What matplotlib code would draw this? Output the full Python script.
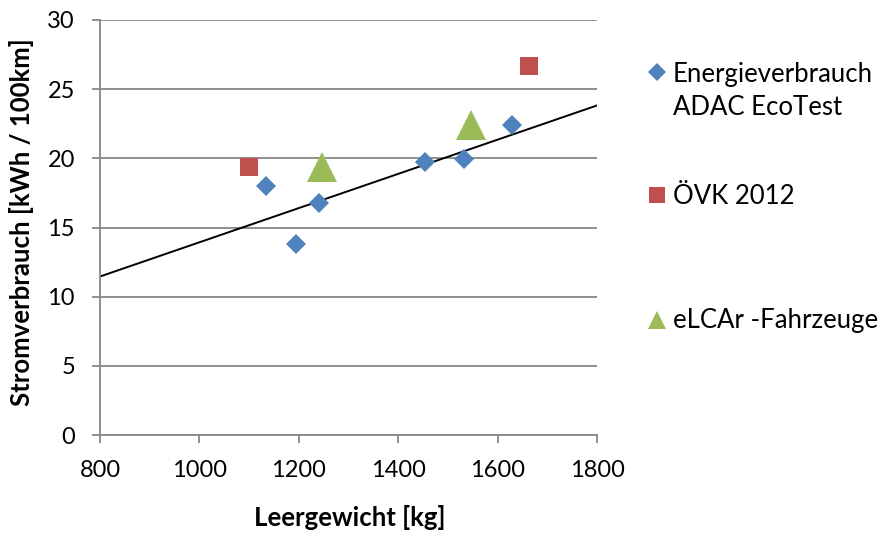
import numpy as np
import matplotlib
matplotlib.use("Agg")
import matplotlib.pyplot as plt
from matplotlib.lines import Line2D

plt.rcParams['font.family'] = ['Lato', 'DejaVu Sans']

# Vehicle data: curb weight [kg] vs. electricity consumption [kWh/100km]
adac_weight = [1135, 1195, 1240, 1453, 1533, 1629]
adac_consumption = [18.0, 13.8, 16.75, 19.7, 19.95, 22.4]

oevk_weight = [1100, 1664]
oevk_consumption = [19.35, 26.7]

elcar_weight = [1246, 1546]
elcar_consumption = [19.4, 22.4]

series_labels = ["Energieverbrauch\nADAC EcoTest", "ÖVK 2012", "eLCAr -Fahrzeuge"]
x_ticks = [800, 1000, 1200, 1400, 1600, 1800]
y_ticks = [0, 5, 10, 15, 20, 25, 30]

BLUE = "#4F81BD"
RED = "#C0504D"
GREEN = "#9BBB59"
GRID = "#878787"

W, H = 885, 534
fig = plt.figure(figsize=(W / 100, H / 100), dpi=100)
left, right, top, bottom = 100, 597, 20, 435
ax = fig.add_axes([left / W, 1 - bottom / H, (right - left) / W, (bottom - top) / H])


def fx(px):
    return px / W


def fy(py):
    return 1 - py / H


ax.set_xlim(x_ticks[0], x_ticks[-1])
ax.set_ylim(y_ticks[0], y_ticks[-1])
ax.set_xticks(x_ticks)
ax.set_yticks(y_ticks)

ax.yaxis.grid(True, color=GRID, linewidth=1.3)
ax.set_axisbelow(True)
for s in ("top", "right"):
    ax.spines[s].set_visible(False)
for s in ("left", "bottom"):
    ax.spines[s].set_color(GRID)
    ax.spines[s].set_linewidth(1.3)
ax.tick_params(axis="both", direction="out", length=6, width=1.3, color=GRID,
               labelsize=17)
ax.tick_params(axis="y", pad=12)
ax.tick_params(axis="x", pad=12)

# Linear trend line through the ADAC measurements
slope, intercept = np.polyfit(adac_weight, adac_consumption, 1)
xs = np.array([x_ticks[0], x_ticks[-1]])
ax.plot(xs, slope * xs + intercept, color="black", linewidth=1.4, zorder=2)

ax.plot(adac_weight, adac_consumption, linestyle="none", marker="D", markersize=9.8,
        color=BLUE, markeredgewidth=0, zorder=3)
ax.plot(oevk_weight, oevk_consumption, linestyle="none", marker="s", markersize=13.5,
        color=RED, markeredgewidth=0, zorder=3)
ax.plot(elcar_weight, elcar_consumption, linestyle="none", marker="^", markersize=21,
        color=GREEN, markeredgewidth=0, zorder=3)

# Axis titles
fig.text(fx(349.5), fy(518), "Leergewicht [kg]", fontsize=18.5, fontweight="bold",
         ha="center", va="center")
fig.text(fx(22), fy(222.5), "Stromverbrauch [kWh / 100km]", fontsize=18.5,
         fontweight="bold", ha="center", va="center", rotation=90)

# Legend drawn in figure pixels: marker centre and text baselines per entry
legend_items = [
    (72, [81.7, 115], "D", 9.0, BLUE, series_labels[0]),
    (195, [204.3], "s", 12.0, RED, series_labels[1]),
    (320, [328.3], "^", 12.5, GREEN, series_labels[2]),
]
for y, baselines, mk, ms, col, lab in legend_items:
    fig.add_artist(Line2D([fx(657)], [fy(y)], marker=mk, markersize=ms, color=col,
                          markeredgewidth=0, linestyle="none", transform=fig.transFigure))
    for line, base in zip(lab.split("\n"), baselines):
        fig.text(fx(673), fy(base), line, fontsize=18.5, va="baseline", ha="left")

fig.savefig("out.png", dpi=100)
